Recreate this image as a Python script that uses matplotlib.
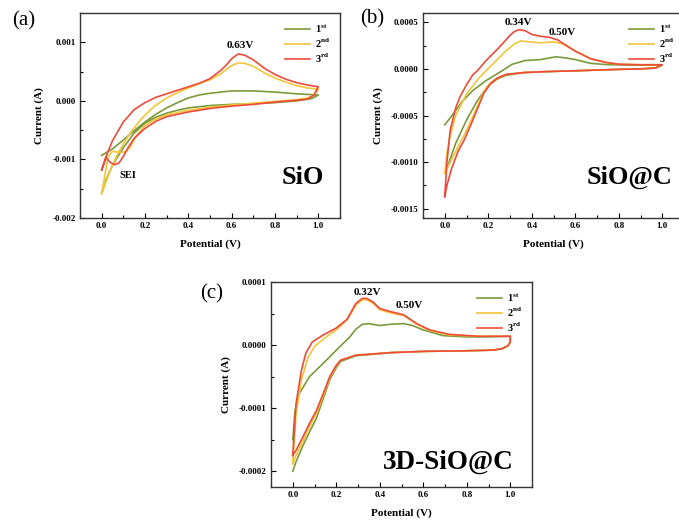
import numpy as np
import matplotlib
matplotlib.use("Agg")
import matplotlib.pyplot as plt
from matplotlib.ticker import MultipleLocator, FixedLocator

plt.rcParams['font.family'] = ['Liberation Serif', 'DejaVu Serif']
plt.rcParams['mathtext.fontset'] = 'custom'
plt.rcParams['mathtext.rm'] = 'Liberation Serif'
plt.rcParams['mathtext.bf'] = 'Liberation Serif:bold'
plt.rcParams['axes.unicode_minus'] = False

# CV loops: each cycle = anodic sweep (0 -> 1 V) then cathodic sweep (1 -> 0 V), current in mA
# ---- SiO ----
sio_c1_up_v = [0.0, 0.05, 0.1, 0.15, 0.2, 0.25, 0.3, 0.35, 0.4, 0.45, 0.5, 0.6, 0.7, 0.8, 0.9, 0.95, 1.0]
sio_c1_up_i = [-0.93, -0.82, -0.67, -0.51, -0.36, -0.23, -0.12, -0.03, 0.05, 0.1, 0.13, 0.17, 0.17, 0.15, 0.12, 0.11, 0.1]
sio_c1_dn_v = [1.0, 0.97, 0.9, 0.8, 0.7, 0.6, 0.5, 0.4, 0.35, 0.3, 0.25, 0.2, 0.15, 0.1, 0.05, 0.02, 0.0]
sio_c1_dn_i = [0.1, 0.04, 0.0, -0.03, -0.05, -0.06, -0.08, -0.12, -0.16, -0.21, -0.28, -0.38, -0.55, -0.8, -1.1, -1.35, -1.58]

sio_c2_up_v = [0.0, 0.04, 0.08, 0.13, 0.18, 0.24, 0.3, 0.35, 0.4, 0.45, 0.5, 0.55, 0.58, 0.6, 0.63, 0.66, 0.7, 0.75, 0.8, 0.85, 0.9, 0.95, 1.0]
sio_c2_up_i = [-1.58, -1.18, -0.86, -0.56, -0.32, -0.1, 0.05, 0.14, 0.22, 0.29, 0.36, 0.46, 0.55, 0.6, 0.65, 0.64, 0.59, 0.48, 0.39, 0.32, 0.26, 0.22, 0.2]
sio_c2_dn_v = [1.0, 0.98, 0.95, 0.9, 0.8, 0.7, 0.6, 0.5, 0.4, 0.35, 0.3, 0.25, 0.2, 0.16, 0.13, 0.11, 0.08, 0.05, 0.03, 0.0]
sio_c2_dn_i = [0.2, 0.1, 0.05, 0.02, -0.01, -0.04, -0.07, -0.11, -0.16, -0.2, -0.24, -0.31, -0.42, -0.6, -0.8, -0.87, -0.88, -0.86, -0.95, -1.58]

sio_c3_up_v = [0.0, 0.02, 0.05, 0.1, 0.15, 0.2, 0.25, 0.3, 0.35, 0.4, 0.45, 0.5, 0.55, 0.58, 0.6, 0.63, 0.66, 0.7, 0.75, 0.8, 0.85, 0.9, 0.95, 1.0]
sio_c3_up_i = [-1.18, -0.95, -0.68, -0.36, -0.15, -0.03, 0.06, 0.12, 0.18, 0.24, 0.3, 0.38, 0.52, 0.63, 0.72, 0.8, 0.78, 0.7, 0.56, 0.45, 0.37, 0.31, 0.27, 0.24]
sio_c3_dn_v = [1.0, 0.98, 0.95, 0.9, 0.8, 0.7, 0.6, 0.5, 0.4, 0.35, 0.3, 0.25, 0.2, 0.15, 0.12, 0.1, 0.08, 0.06, 0.04, 0.02, 0.0]
sio_c3_dn_i = [0.24, 0.1, 0.03, 0.01, -0.02, -0.06, -0.09, -0.13, -0.19, -0.23, -0.27, -0.35, -0.47, -0.64, -0.81, -0.95, -1.06, -1.09, -1.05, -0.97, -1.18]

# ---- SiO@C ----
sioc_c1_up_v = [0.0, 0.04, 0.08, 0.13, 0.19, 0.25, 0.31, 0.37, 0.44, 0.51, 0.55, 0.6, 0.67, 0.75, 0.85, 1.0]
sioc_c1_up_i = [-0.6, -0.48, -0.35, -0.23, -0.125, -0.04, 0.05, 0.09, 0.1, 0.13, 0.12, 0.1, 0.06, 0.045, 0.04, 0.04]
sioc_c1_dn_v = [1.0, 0.97, 0.9, 0.8, 0.6, 0.45, 0.36, 0.28, 0.24, 0.2, 0.15, 0.1, 0.05, 0.02, 0.0]
sioc_c1_dn_i = [0.04, 0.01, 0.0, -0.005, -0.02, -0.03, -0.04, -0.07, -0.11, -0.18, -0.34, -0.55, -0.8, -1.0, -1.12]

sioc_c2_up_v = [0.0, 0.01, 0.025, 0.05, 0.1, 0.16, 0.22, 0.28, 0.32, 0.35, 0.39, 0.44, 0.5, 0.54, 0.58, 0.62, 0.67, 0.74, 0.8, 0.9, 1.0]
sioc_c2_up_i = [-1.12, -0.9, -0.72, -0.5, -0.27, -0.09, 0.05, 0.19, 0.27, 0.3, 0.29, 0.28, 0.29, 0.27, 0.22, 0.17, 0.11, 0.07, 0.05, 0.045, 0.045]
sioc_c2_dn_v = [1.0, 0.97, 0.9, 0.8, 0.6, 0.45, 0.36, 0.28, 0.24, 0.21, 0.18, 0.15, 0.12, 0.09, 0.06, 0.03, 0.0]
sioc_c2_dn_i = [0.045, 0.01, 0.0, -0.005, -0.02, -0.03, -0.04, -0.06, -0.1, -0.15, -0.24, -0.4, -0.56, -0.71, -0.84, -0.98, -1.12]

sioc_c3_up_v = [0.0, 0.01, 0.025, 0.05, 0.07, 0.1, 0.13, 0.15, 0.19, 0.25, 0.3, 0.32, 0.34, 0.37, 0.4, 0.44, 0.48, 0.52, 0.56, 0.6, 0.67, 0.74, 0.8, 0.9, 1.0]
sioc_c3_up_i = [-1.37, -1.0, -0.66, -0.42, -0.3, -0.17, -0.06, -0.02, 0.09, 0.23, 0.36, 0.4, 0.42, 0.41, 0.37, 0.35, 0.34, 0.31, 0.25, 0.19, 0.11, 0.07, 0.05, 0.045, 0.045]
sioc_c3_dn_v = [1.0, 0.97, 0.9, 0.8, 0.6, 0.45, 0.36, 0.28, 0.24, 0.21, 0.18, 0.15, 0.12, 0.09, 0.06, 0.03, 0.01, 0.0]
sioc_c3_dn_i = [0.045, 0.01, 0.0, -0.005, -0.02, -0.03, -0.04, -0.06, -0.1, -0.16, -0.26, -0.43, -0.6, -0.76, -0.89, -1.08, -1.25, -1.37]

# ---- 3D-SiO@C ----
d3_c1_up_v = [0.0, 0.01, 0.03, 0.077, 0.14, 0.215, 0.26, 0.29, 0.32, 0.35, 0.4, 0.45, 0.51, 0.55, 0.6, 0.69, 0.8, 0.9, 1.0]
d3_c1_up_i = [-0.150, -0.105, -0.077, -0.050, -0.029, -0.003, 0.012, 0.025, 0.033, 0.034, 0.031, 0.033, 0.034, 0.031, 0.024, 0.015, 0.013, 0.013, 0.014]
d3_c1_dn_v = [1.0, 1.0, 0.99, 0.96, 0.92, 0.8, 0.6, 0.45, 0.29, 0.22, 0.2, 0.17, 0.14, 0.11, 0.077, 0.046, 0.015, 0.0]
d3_c1_dn_i = [0.014, 0.005, -0.001, -0.006, -0.008, -0.009, -0.010, -0.012, -0.017, -0.026, -0.036, -0.055, -0.085, -0.115, -0.138, -0.160, -0.185, -0.200]

d3_c2_up_v = [0.0, 0.015, 0.04, 0.07, 0.1, 0.15, 0.2, 0.25, 0.29, 0.32, 0.34, 0.37, 0.4, 0.45, 0.51, 0.57, 0.63, 0.72, 0.85, 1.0]
d3_c2_up_i = [-0.188, -0.110, -0.055, -0.020, -0.002, 0.012, 0.024, 0.040, 0.063, 0.072, 0.072, 0.066, 0.056, 0.051, 0.047, 0.033, 0.023, 0.016, 0.014, 0.014]
d3_c2_dn_v = [1.0, 1.0, 0.99, 0.96, 0.92, 0.8, 0.6, 0.45, 0.29, 0.22, 0.2, 0.17, 0.14, 0.11, 0.077, 0.046, 0.015, 0.0]
d3_c2_dn_i = [0.014, 0.005, -0.001, -0.006, -0.008, -0.009, -0.010, -0.012, -0.016, -0.024, -0.033, -0.052, -0.080, -0.107, -0.130, -0.153, -0.175, -0.188]

d3_c3_up_v = [0.0, 0.015, 0.04, 0.06, 0.09, 0.14, 0.2, 0.25, 0.29, 0.32, 0.34, 0.37, 0.4, 0.45, 0.51, 0.57, 0.63, 0.72, 0.85, 1.0]
d3_c3_up_i = [-0.175, -0.093, -0.040, -0.013, 0.005, 0.016, 0.027, 0.041, 0.066, 0.074, 0.074, 0.068, 0.058, 0.053, 0.048, 0.034, 0.024, 0.017, 0.014, 0.014]
d3_c3_dn_v = [1.0, 1.0, 0.99, 0.96, 0.92, 0.8, 0.6, 0.45, 0.29, 0.22, 0.2, 0.17, 0.14, 0.11, 0.077, 0.046, 0.015, 0.0]
d3_c3_dn_i = [0.014, 0.005, -0.001, -0.006, -0.008, -0.009, -0.010, -0.012, -0.016, -0.024, -0.032, -0.050, -0.077, -0.103, -0.124, -0.146, -0.167, -0.175]

cycle_labels = [r'1$^{\mathbf{st}}$', r'2$^{\mathbf{nd}}$', r'3$^{\mathbf{rd}}$']
cycle_colors = ['#7b9a3c', '#f2c53a', '#ee4b3a']

x_ticks = [0.0, 0.2, 0.4, 0.6, 0.8, 1.0]
sio_yticks = [-0.002, -0.001, 0.000, 0.001]
sioc_yticks = [-0.0015, -0.0010, -0.0005, 0.0000, 0.0005]
d3_yticks = [-0.0002, -0.0001, 0.0000, 0.0001]

W, H = 679, 520
fig = plt.figure(figsize=(W / 100, H / 100), dpi=100)


def px_axes(left, top, width, height):
    return fig.add_axes([left / W, 1 - (top + height) / H, width / W, height / H])


def draw_panel(ax, cycles, yticks, ylim, ydec, mdiv):
    for (uv, ui, dv, di), col, lab in zip(cycles, cycle_colors, cycle_labels):
        v = np.concatenate([uv, dv])
        i = np.concatenate([ui, di]) * 1e-3
        ax.plot(v, i, color=col, lw=1.2, label=lab, solid_joinstyle='round')
    ax.set_xlim(-0.1, 1.1)
    ax.set_ylim(*ylim)
    ax.xaxis.set_major_locator(FixedLocator(x_ticks))
    ax.xaxis.set_minor_locator(MultipleLocator(0.1))
    ax.set_xticklabels([f"{t:.1f}" for t in x_ticks])
    ax.yaxis.set_major_locator(FixedLocator(yticks))
    step = yticks[1] - yticks[0]
    ax.yaxis.set_minor_locator(MultipleLocator(step / mdiv))
    ax.set_yticklabels([f"{t:.{ydec}f}".replace("-0." + "0" * ydec, "0." + "0" * ydec) for t in yticks])
    ax.tick_params(which='both', direction='in', labelsize=6.5, pad=3, width=0.8,
                   top=False, right=False)
    ax.tick_params(which='major', length=3.5)
    ax.tick_params(which='minor', length=2)
    for lbl in ax.get_xticklabels() + ax.get_yticklabels():
        lbl.set_fontweight('bold')
    for s in ax.spines.values():
        s.set_linewidth(1.0)
        s.set_color('#333333')
    ax.set_xlabel('Potential (V)', fontsize=8, fontweight='bold', labelpad=7)
    ax.set_ylabel('Current (A)', fontsize=8, fontweight='bold', labelpad=6)
    leg = ax.legend(loc='upper right', frameon=False, handlelength=2.4, handletextpad=0.5,
                    labelspacing=0.2, borderaxespad=0.5, prop={'weight': 'bold', 'size': 7.5})
    return leg


# (a) SiO
ax_a = px_axes(80, 13, 260, 205)
draw_panel(ax_a,
           [(sio_c1_up_v, sio_c1_up_i, sio_c1_dn_v, sio_c1_dn_i),
            (sio_c2_up_v, sio_c2_up_i, sio_c2_dn_v, sio_c2_dn_i),
            (sio_c3_up_v, sio_c3_up_i, sio_c3_dn_v, sio_c3_dn_i)],
           sio_yticks, (-0.002, 0.0015), 3, 2)
ax_a.text(0.64, 0.00087, '0.63V', ha='center', va='bottom', fontsize=8, fontweight='bold')
ax_a.text(0.12, -0.00127, 'SEI', ha='center', va='center', fontsize=7.5, fontweight='bold')
ax_a.text(0.94, 0.2, 'SiO', transform=ax_a.transAxes, ha='right', va='center',
          fontsize=19, fontweight='bold')

# (b) SiO@C, right edge runs off the page
ax_b = px_axes(423, 13, 261, 205)
draw_panel(ax_b,
           [(sioc_c1_up_v, sioc_c1_up_i, sioc_c1_dn_v, sioc_c1_dn_i),
            (sioc_c2_up_v, sioc_c2_up_i, sioc_c2_dn_v, sioc_c2_dn_i),
            (sioc_c3_up_v, sioc_c3_up_i, sioc_c3_dn_v, sioc_c3_dn_i)],
           sioc_yticks, (-0.0016, 0.0006), 4, 2)
ax_b.text(0.34, 0.00045, '0.34V', ha='center', va='bottom', fontsize=8, fontweight='bold')
ax_b.text(0.54, 0.00034, '0.50V', ha='center', va='bottom', fontsize=8, fontweight='bold')
ax_b.text(0.955, 0.2, 'SiO@C', transform=ax_b.transAxes, ha='right', va='center',
          fontsize=19, fontweight='bold')

# (c) 3D-SiO@C
ax_c = px_axes(271, 282, 261, 205)
draw_panel(ax_c,
           [(d3_c1_up_v, d3_c1_up_i, d3_c1_dn_v, d3_c1_dn_i),
            (d3_c2_up_v, d3_c2_up_i, d3_c2_dn_v, d3_c2_dn_i),
            (d3_c3_up_v, d3_c3_up_i, d3_c3_dn_v, d3_c3_dn_i)],
           d3_yticks, (-0.000225, 0.0001), 4, 2)
ax_c.text(0.345, 0.000076, '0.32V', ha='center', va='bottom', fontsize=8, fontweight='bold')
ax_c.text(0.535, 0.000055, '0.50V', ha='center', va='bottom', fontsize=8, fontweight='bold')
ax_c.text(0.93, 0.12, '3D-SiO@C', transform=ax_c.transAxes, ha='right', va='center',
          fontsize=19.5, fontweight='bold')

# panel letters
fig.text(12 / W, 1 - 21 / H, '(a)', fontsize=15, ha='left', va='center')
fig.text(360 / W, 1 - 19 / H, '(b)', fontsize=15, ha='left', va='center')
fig.text(200 / W, 1 - 294 / H, '(c)', fontsize=15, ha='left', va='center')

fig.savefig('out.png', dpi=100)
